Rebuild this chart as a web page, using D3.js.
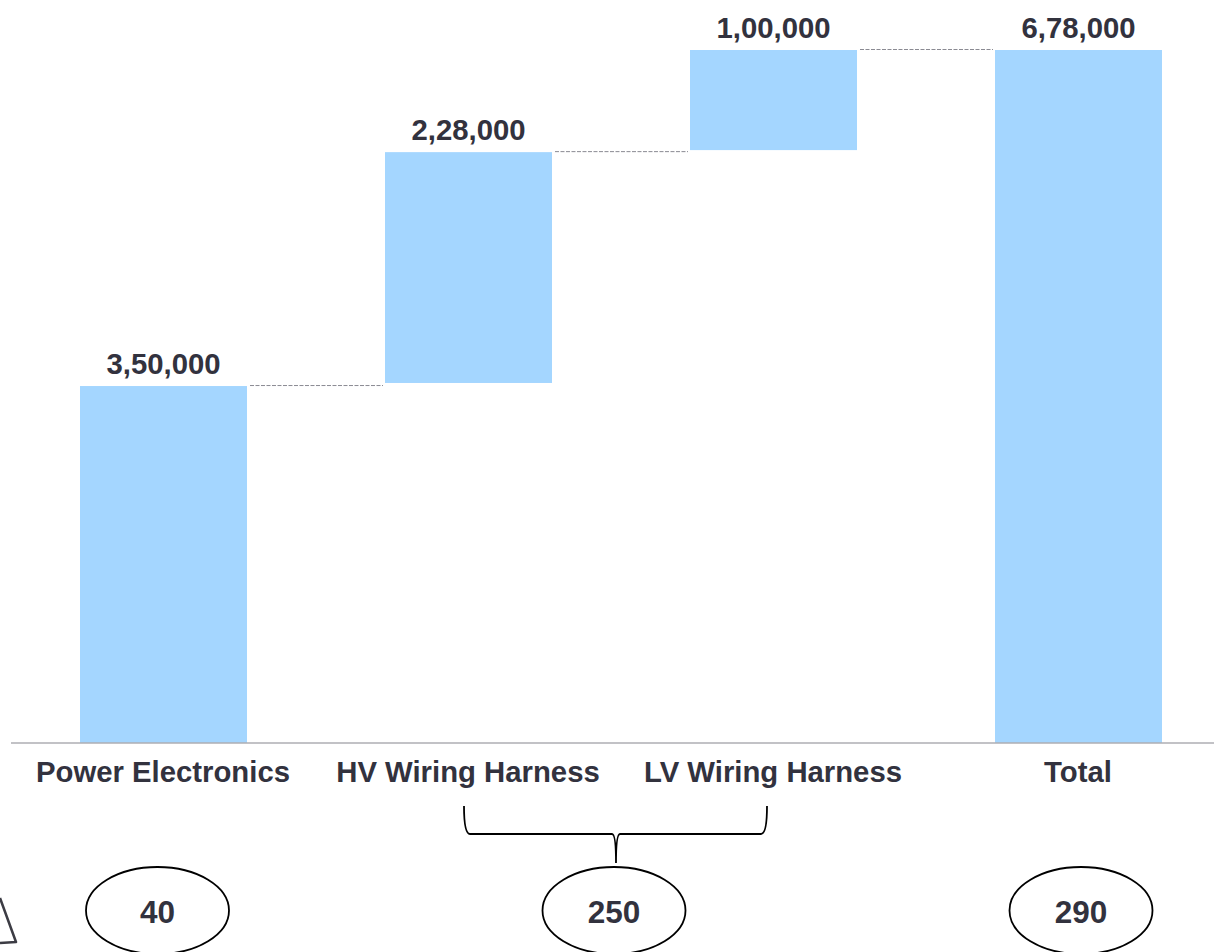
<!DOCTYPE html>
<html><head><meta charset="utf-8">
<style>html,body{margin:0;padding:0;background:#fff;overflow:hidden}svg{display:block}text{font-family:"Liberation Sans",Arial,sans-serif;font-weight:700;fill:#32323e}</style>
<script src="https://cdn.jsdelivr.net/npm/d3@7"></script></head><body>
<script>
const categories=["Power Electronics","HV Wiring Harness","LV Wiring Harness","Total"];
const barStarts=[0,352000,580000,0];
const barEnds=[349000,578000,678000,678000];
const valueLabels=["3,50,000","2,28,000","1,00,000","6,78,000"];
const groupLabels=["40","250","290"];
const W=1214,H=952;
const svg=d3.select("body").append("svg").attr("width",W).attr("height",H);
const x=d3.scaleBand().domain(categories).range([80,1162]).paddingInner(0.45246).paddingOuter(0);
const cx=d=>x(d)+x.bandwidth()/2;
const y=d3.scaleLinear().domain([0,678000]).range([742.5,50]);
const bars=categories.map((c,i)=>({c,s:barStarts[i],e:barEnds[i],l:valueLabels[i]}));
svg.selectAll("rect.bar").data(bars).join("rect").attr("class","bar")
 .attr("x",d=>x(d.c)).attr("width",x.bandwidth()).attr("y",d=>y(d.e)).attr("height",d=>y(d.s)-y(d.e)).attr("fill","#a4d6ff");
svg.selectAll("line.conn").data(bars.slice(0,3)).join("line").attr("class","conn")
 .attr("x1",d=>x(d.c)+x.bandwidth()+3).attr("x2",(d,i)=>x(bars[i+1].c)-2)
 .attr("y1",(d,i)=>y(barEnds[i])-0.5).attr("y2",(d,i)=>y(barEnds[i])-0.5)
 .attr("stroke","#8a8a92").attr("stroke-width",1).attr("stroke-dasharray","4 1.5");
svg.append("line").attr("x1",11).attr("x2",W).attr("y1",743).attr("y2",743).attr("stroke","#85858d").attr("stroke-width",1.2);
svg.selectAll("text.val").data(bars).join("text").attr("class","val")
 .attr("x",d=>cx(d.c)).attr("y",d=>y(d.e)-12.5).attr("text-anchor","middle").attr("font-size",29.3).text(d=>d.l);
svg.selectAll("text.cat").data(bars).join("text").attr("class","cat")
 .attr("x",d=>cx(d.c)-0.5).attr("y",782).attr("text-anchor","middle").attr("font-size",29.3).text(d=>d.c);
// brace
const bl=cx(categories[1])-4.5,br=cx(categories[2])-6.5,bm=616,bt=806,bb=834,bn=863;
svg.append("path").attr("fill","none").attr("stroke","#000").attr("stroke-width",1.8)
 .attr("d",`M${bl},${bt}Q${bl},${bb} ${bl+6},${bb}L${bm-4},${bb}Q${bm},${bb} ${bm},${bn}Q${bm},${bb} ${bm+4},${bb}L${br-6},${bb}Q${br},${bb} ${br},${bt}`);
// ovals
const ovalX=[157.5,614,1081];
const g=svg.selectAll("g.ov").data(groupLabels).join("g").attr("class","ov").attr("transform",(d,i)=>`translate(${ovalX[i]},910.5)`);
g.append("ellipse").attr("rx",71.5).attr("ry",43.5).attr("fill","#fff").attr("stroke","#000").attr("stroke-width",1.8);
g.append("text").attr("y",12).attr("text-anchor","middle").attr("font-size",31.5).text(d=>d);
// clipped warning triangle at left edge
svg.append("path").attr("fill","none").attr("stroke","#3c3c44").attr("stroke-width",2.5).attr("stroke-linejoin","round")
 .attr("d","M0,898L16,942L0,943");
</script></body></html>
